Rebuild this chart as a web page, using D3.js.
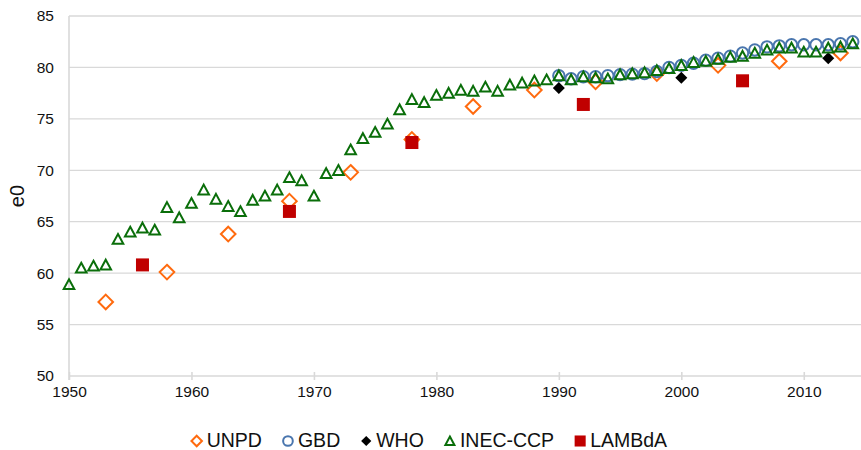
<!DOCTYPE html>
<html>
<head>
<meta charset="utf-8">
<script src="https://cdn.jsdelivr.net/npm/d3@7/dist/d3.min.js"></script>
<style>
  html, body { margin: 0; padding: 0; background: #fff; }
  svg { display: block; font-family: "Liberation Sans", Arial, sans-serif; }
</style>
</head>
<body>
<svg id="chart" width="861" height="450"></svg>
<script>
// --- data ---
const inecYears = d3.range(1950, 2015);
const inecValues = [
  58.9, 60.5, 60.7, 60.8, 63.3, 64.0, 64.4, 64.2, 66.4, 65.4,
  66.8, 68.1, 67.2, 66.5, 66.0, 67.1, 67.5, 68.1, 69.3, 69.0,
  67.5, 69.7, 70.0, 72.0, 73.1, 73.7, 74.5, 75.9, 76.9, 76.6,
  77.3, 77.5, 77.8, 77.7, 78.1, 77.7, 78.3, 78.5, 78.7, 78.8,
  79.2, 78.8, 79.1, 79.0, 78.9, 79.3, 79.4, 79.5, 79.7, 79.9,
  80.2, 80.5, 80.6, 80.8, 81.0, 81.1, 81.4, 81.7, 81.9, 81.9,
  81.5, 81.5, 81.9, 82.0, 82.3
];

const gbdYears = d3.range(1990, 2015);
const gbdValues = [
  79.2, 78.9, 79.1, 79.1, 79.2, 79.3, 79.35, 79.4, 79.6, 80.0,
  80.2, 80.4, 80.7, 80.9, 81.1, 81.4, 81.7, 82.0, 82.1, 82.2,
  82.2, 82.2, 82.2, 82.3, 82.5
];

const unpdYears = [1953, 1958, 1963, 1968, 1973, 1978, 1983, 1988, 1993, 1998, 2003, 2008, 2013];
const unpdValues = [57.2, 60.1, 63.8, 67.0, 69.8, 73.0, 76.2, 77.8, 78.6, 79.4, 80.2, 80.6, 81.4];

const whoYears = [1990, 2000, 2012];
const whoValues = [78.0, 79.0, 80.9];

const lambdaYears = [1956, 1968, 1978, 1992, 2005];
const lambdaValues = [60.8, 66.0, 72.7, 76.4, 78.7];

const xTicks = [1950, 1960, 1970, 1980, 1990, 2000, 2010];
const yTicks = [50, 55, 60, 65, 70, 75, 80, 85];
const seriesNames = ["UNPD", "GBD", "WHO", "INEC-CCP", "LAMBdA"];

// --- layout ---
const svg = d3.select("#chart");
const x = d3.scaleLinear().domain([1950, 2015]).range([69, 865]);
const y = d3.scaleLinear().domain([50, 85]).range([376, 16]);
const gridColor = "#d9d9d9";

// marker shapes (scale k = 1 in plot, smaller in legend)
function diamondPath(r) {
  return `M0,${-r}L${r},0L0,${r}L${-r},0Z`;
}
function trianglePath(k) {
  const w = 5.3 * k, top = -5.2 * k, bot = 4.6 * k;
  return `M0,${top}L${w},${bot}L${-w},${bot}Z`;
}

const styles = {
  UNPD: { color: "#ff6a0e" },
  GBD: { color: "#4a76ae" },
  WHO: { color: "#000000" },
  "INEC-CCP": { color: "#0a6e0a" },
  LAMBdA: { color: "#c00000" }
};

function drawMarker(g, name, k) {
  const c = styles[name].color;
  if (name === "UNPD") {
    g.append("path").attr("d", diamondPath(7.3 * k))
      .attr("fill", "#fff").attr("fill-opacity", 0).attr("stroke", c).attr("stroke-width", 2);
  } else if (name === "GBD") {
    g.append("circle").attr("r", 5.7 * k)
      .attr("fill", "none").attr("stroke", c).attr("stroke-width", 2);
  } else if (name === "WHO") {
    g.append("path").attr("d", diamondPath(6 * k)).attr("fill", c);
  } else if (name === "INEC-CCP") {
    g.append("path").attr("d", trianglePath(k))
      .attr("fill", "none").attr("stroke", c).attr("stroke-width", 2);
  } else {
    const s = 13 * k;
    g.append("rect").attr("x", -s / 2).attr("y", -s / 2).attr("width", s).attr("height", s).attr("fill", c);
  }
}

// --- grid & axes ---
svg.append("g")
  .selectAll("line")
  .data(yTicks.slice(1))
  .join("line")
  .attr("x1", x(1950)).attr("x2", 861)
  .attr("y1", (d) => y(d)).attr("y2", (d) => y(d))
  .attr("stroke", gridColor).attr("stroke-width", 1.3);

const xAxis = svg.append("g").attr("transform", `translate(0,${y(50)})`)
  .call(d3.axisBottom(x).tickValues(xTicks).tickFormat(d3.format("d")).tickSize(4).tickSizeOuter(0));
xAxis.select(".domain").attr("stroke", gridColor).attr("stroke-width", 1.6).attr("d", `M${x(1950)},0H861`);
xAxis.selectAll(".tick line").attr("stroke", gridColor).attr("stroke-width", 1.6).attr("y1", -4).attr("y2", 4);
xAxis.selectAll(".tick text").attr("fill", "#111").attr("font-size", "15.5px").attr("y", 10).attr("dy", "0.71em");

const yAxis = svg.append("g").attr("transform", `translate(${x(1950)},0)`)
  .call(d3.axisLeft(y).tickValues(yTicks).tickSize(0).tickPadding(15));
yAxis.select(".domain").attr("stroke", gridColor).attr("stroke-width", 1.6).attr("d", `M0,${y(85)}V${y(50) + 4}`);
yAxis.selectAll(".tick text").attr("fill", "#111").attr("font-size", "15.5px");

svg.append("text")
  .attr("transform", `translate(24,${(y(85) + y(50)) / 2}) rotate(-90)`)
  .attr("text-anchor", "middle")
  .attr("font-size", "20px")
  .attr("fill", "#111")
  .text("e0");

// --- series (legend order = drawing order) ---
const series = [
  { name: "UNPD", years: unpdYears, values: unpdValues },
  { name: "GBD", years: gbdYears, values: gbdValues },
  { name: "WHO", years: whoYears, values: whoValues },
  { name: "INEC-CCP", years: inecYears, values: inecValues },
  { name: "LAMBdA", years: lambdaYears, values: lambdaValues }
];

for (const s of series) {
  const g = svg.append("g").attr("class", "series");
  s.years.forEach((yr, i) => {
    const m = g.append("g").attr("transform", `translate(${x(yr)},${y(s.values[i])})`);
    drawMarker(m, s.name, 1);
  });
}

// --- legend ---
const legend = svg.append("g");
let lx = 196.7;
for (const name of seriesNames) {
  const m = legend.append("g").attr("transform", `translate(${lx},441)`);
  drawMarker(m, name, name === "UNPD" ? 0.72 : 0.85);
  const t = legend.append("text")
    .attr("x", lx + 10)
    .attr("y", 447)
    .attr("font-size", "19.5px")
    .attr("fill", "#111")
    .text(name);
  lx = lx + 10 + t.node().getComputedTextLength() + 26;
}
</script>
</body>
</html>
